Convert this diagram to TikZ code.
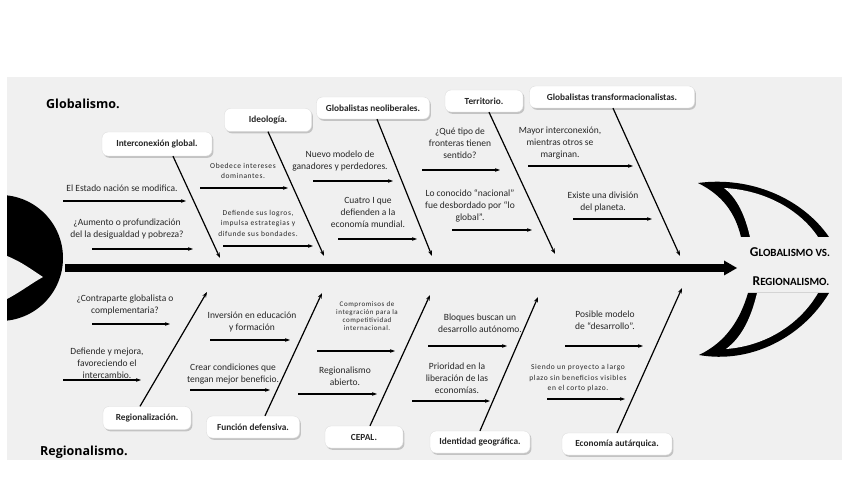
\documentclass[tikz,border=0pt]{standalone}
\usepackage{fontspec}
\setmainfont{Carlito}
\newfontfamily\titlefont{Open Sans}
\newfontfamily\spacedfont[LetterSpace=8]{Carlito}
\usetikzlibrary{arrows.meta,shadows}
\definecolor{bgc}{HTML}{F0F0F0}
\definecolor{txt}{HTML}{262626}
\begin{document}
\begin{tikzpicture}[x=1bp,y=-1bp,
  labelbox/.style={draw=gray!25, line width=0.4bp, fill=white, rounded corners=6bp,
    drop shadow={shadow xshift=1.4bp, shadow yshift=-1.8bp, opacity=0.4},
    font=\fontsize{9.3bp}{11bp}\selectfont\bfseries, text=txt, minimum height=23bp, inner sep=0pt, align=center},
  lbl/.style={align=center, inner sep=0pt, text=txt, font=\fontsize{9.5bp}{12bp}\selectfont},
  sml/.style={align=center, inner sep=0pt, text=txt, font=\spacedfont\fontsize{7.5bp}{10.5bp}\selectfont},
  tiny/.style={align=center, inner sep=0pt, text=txt, font=\spacedfont\fontsize{7bp}{7.8bp}\selectfont},
  harr/.style={-{Stealth[length=5bp,width=3.6bp]}, line width=1.3bp},
  bone/.style={-{Stealth[length=5.5bp,width=4bp]}, line width=1.2bp},
  title/.style={inner sep=0pt, font=\titlefont\fontsize{12.5bp}{14bp}\selectfont\bfseries},
  headtxt/.style={inner sep=0pt, font=\bfseries}
]
\useasboundingbox (0,0) rectangle (848,477);
\fill[white] (0,0) rectangle (848,477);
\fill[bgc] (7,77) rectangle (842,460);

% tail
\begin{scope}
  \clip (7,150) rectangle (100,350);
  \fill[black] (0,258) circle[radius=63bp];
\end{scope}
\fill[bgc] (7,256) .. controls (22,262) and (32,270) .. (43,277) .. controls (32,283) and (22,291) .. (7,299) -- cycle;

% head (crescents)
\fill[black] (698,183) .. controls (750,176) and (802,198) .. (829,237) -- (741,237)
   .. controls (735,212) and (722,195) .. (698,183) -- cycle;
\fill[bgc] (750,237) .. controls (745,215) and (737,198) .. (724,188)
   .. controls (765,190) and (800,210) .. (818,237) -- cycle;
\fill[black] (699,355) .. controls (750,364) and (802,338) .. (829,293) -- (748,293)
   .. controls (740,320) and (726,342) .. (699,355) -- cycle;
\fill[bgc] (757,293) .. controls (751,318) and (742,337) .. (726,349)
   .. controls (766,346) and (800,324) .. (818,293) -- cycle;
\node[headtxt] (h1) at (790,252) {{\fontsize{13.5bp}{14bp}\selectfont G}{\fontsize{11bp}{12bp}\selectfont LOBALISMO VS.}};
\node[headtxt] (h2) at (791,281) {{\fontsize{13.5bp}{14bp}\selectfont R}{\fontsize{11bp}{12bp}\selectfont EGIONALISMO.}};

% spine
\coordinate (s0) at (65,268);
\coordinate (s1) at (726,268);
\draw[line width=8bp] (s0) -- (s1);
\fill (724,260.5) -- (737,268) -- (724,275.5) -- cycle;

% titles
\node[title, anchor=west] (tg) at (46,104) {Globalismo.};
\node[title, anchor=west] (tr) at (40,452) {Regionalismo.};

% top boxes
\node[labelbox, minimum width=110bp, minimum height=24bp] (k1) at (157,144) {Interconexión global.};
\node[labelbox, minimum width=87bp] (k2) at (268,120) {Ideología.};
\node[labelbox, minimum width=113bp, minimum height=22bp] (k3) at (373,108) {Globalistas neoliberales.};
\node[labelbox, minimum width=78bp, minimum height=22bp] (k4) at (484,101) {Territorio.};
\node[labelbox, minimum width=165bp, minimum height=22bp] (k5) at (612,97) {Globalistas transformacionalistas.};

% bottom boxes
\node[labelbox, minimum width=88bp] (r1) at (147,418) {Regionalización.};
\node[labelbox, minimum width=93bp, minimum height=22bp] (r2) at (253,427) {Función defensiva.};
\node[labelbox, minimum width=78bp, minimum height=22bp] (r3) at (364,437) {CEPAL.};
\node[labelbox, minimum width=100bp, minimum height=22bp] (r4) at (480,442) {Identidad geográfica.};
\node[labelbox, minimum width=110bp, minimum height=22bp] (r5) at (617,444) {Economía autárquica.};

% bone ends
\coordinate (e1) at (220,258);
\coordinate (e2) at (324,256);
\coordinate (e3) at (432,256);
\coordinate (e4) at (555,254);
\coordinate (e5) at (680,256);
\coordinate (f1) at (207,292);
\coordinate (f2) at (322,293);
\coordinate (f3) at (430,295);
\coordinate (f4) at (538,297);
\coordinate (f5) at (682,288);

\draw[bone] ([xshift=16bp]k1.south) -- (e1);
\draw[bone] (k2.south) -- (e2);
\draw[bone] ([xshift=4bp]k3.south) -- (e3);
\draw[bone] ([xshift=5bp]k4.south) -- (e4);
\draw[bone] ([xshift=1bp]k5.south) -- (e5);
\draw[bone] ([xshift=-7bp]r1.north) -- (f1);
\draw[bone] ([xshift=12bp]r2.north) -- (f2);
\draw[bone] ([xshift=6bp]r3.north) -- (f3);
\draw[bone] (r4.north) -- (f4);
\draw[bone] (r5.north) -- (f5);

% top texts
\node[lbl] (t1) at (122,188) {El Estado nación se modifica.};
\node[lbl] (t2) at (127,229) {¿Aumento o profundización\\del la desigualdad y pobreza?};
\node[sml] (t3) at (243,171) {Obedece intereses\\dominantes.};
\node[sml] (t4) at (258,223) {Defiende sus logros,\\impulsa estrategias y\\difunde sus bondades.};
\node[lbl] (t5) at (340,161) {Nuevo modelo de\\ganadores y perdedores.};
\node[lbl] (t6) at (368,212) {Cuatro I que\\defienden a la\\economía mundial.};
\node[lbl] (t7) at (460,143) {¿Qué tipo de\\fronteras tienen\\sentido?};
\node[lbl] (t8) at (470,206) {Lo conocido “nacional”\\fue desbordado por “lo\\global”.};
\node[lbl] (t9) at (560,143) {Mayor interconexión,\\mientras otros se\\marginan.};
\node[lbl] (t10) at (603,202) {Existe una división\\del planeta.};

% bottom texts
\node[lbl] (u1) at (125,305) {¿Contraparte globalista o\\complementaria?};
\node[lbl] (u2) at (107,363) {Defiende y mejora,\\favoreciendo el\\intercambio.};
\node[lbl] (u3) at (252,322) {Inversión en educación\\y formación};
\node[lbl] (u4) at (233,374) {Crear condiciones que\\tengan mejor beneficio.};
\node[tiny] (u5) at (367,316) {Compromisos de\\integración para la\\competitividad\\internacional.};
\node[lbl] (u6) at (345,376) {Regionalismo\\abierto.};
\node[lbl] (u7) at (480,323) {Bloques buscan un\\desarrollo autónomo.};
\node[lbl] (u8) at (457,378) {Prioridad en la\\liberación de las\\economías.};
\node[lbl] (u9) at (605,320) {Posible modelo\\de “desarrollo”.};
\node[sml] (u10) at (578,378) {Siendo un proyecto a largo\\plazo sin beneficios visibles\\en el corto plazo.};

% horizontal arrows
\foreach \n/\y/\a/\b in {a1/201/63/186, a2/249/92/193, a3/188/200/288, a4/246/223/313,
  a5/181/313/393, a6/239/338/417, a7/170/422/500, a8/230/452/532, a9/166/528/633,
  a10/219/573/652, b1/324/92/170, b2/380/63/141, b3/340/210/290, b4/390/190/270,
  b5/351/317/395, b6/394/298/377, b7/346/428/507, b8/401/412/490, b9/346/565/643,
  b10/399/547/625}{
  \coordinate (\n s) at (\a,\y);
  \coordinate (\n e) at (\b,\y);
  \draw[harr] (\n s) -- (\n e);
}
\end{tikzpicture}
\end{document}
